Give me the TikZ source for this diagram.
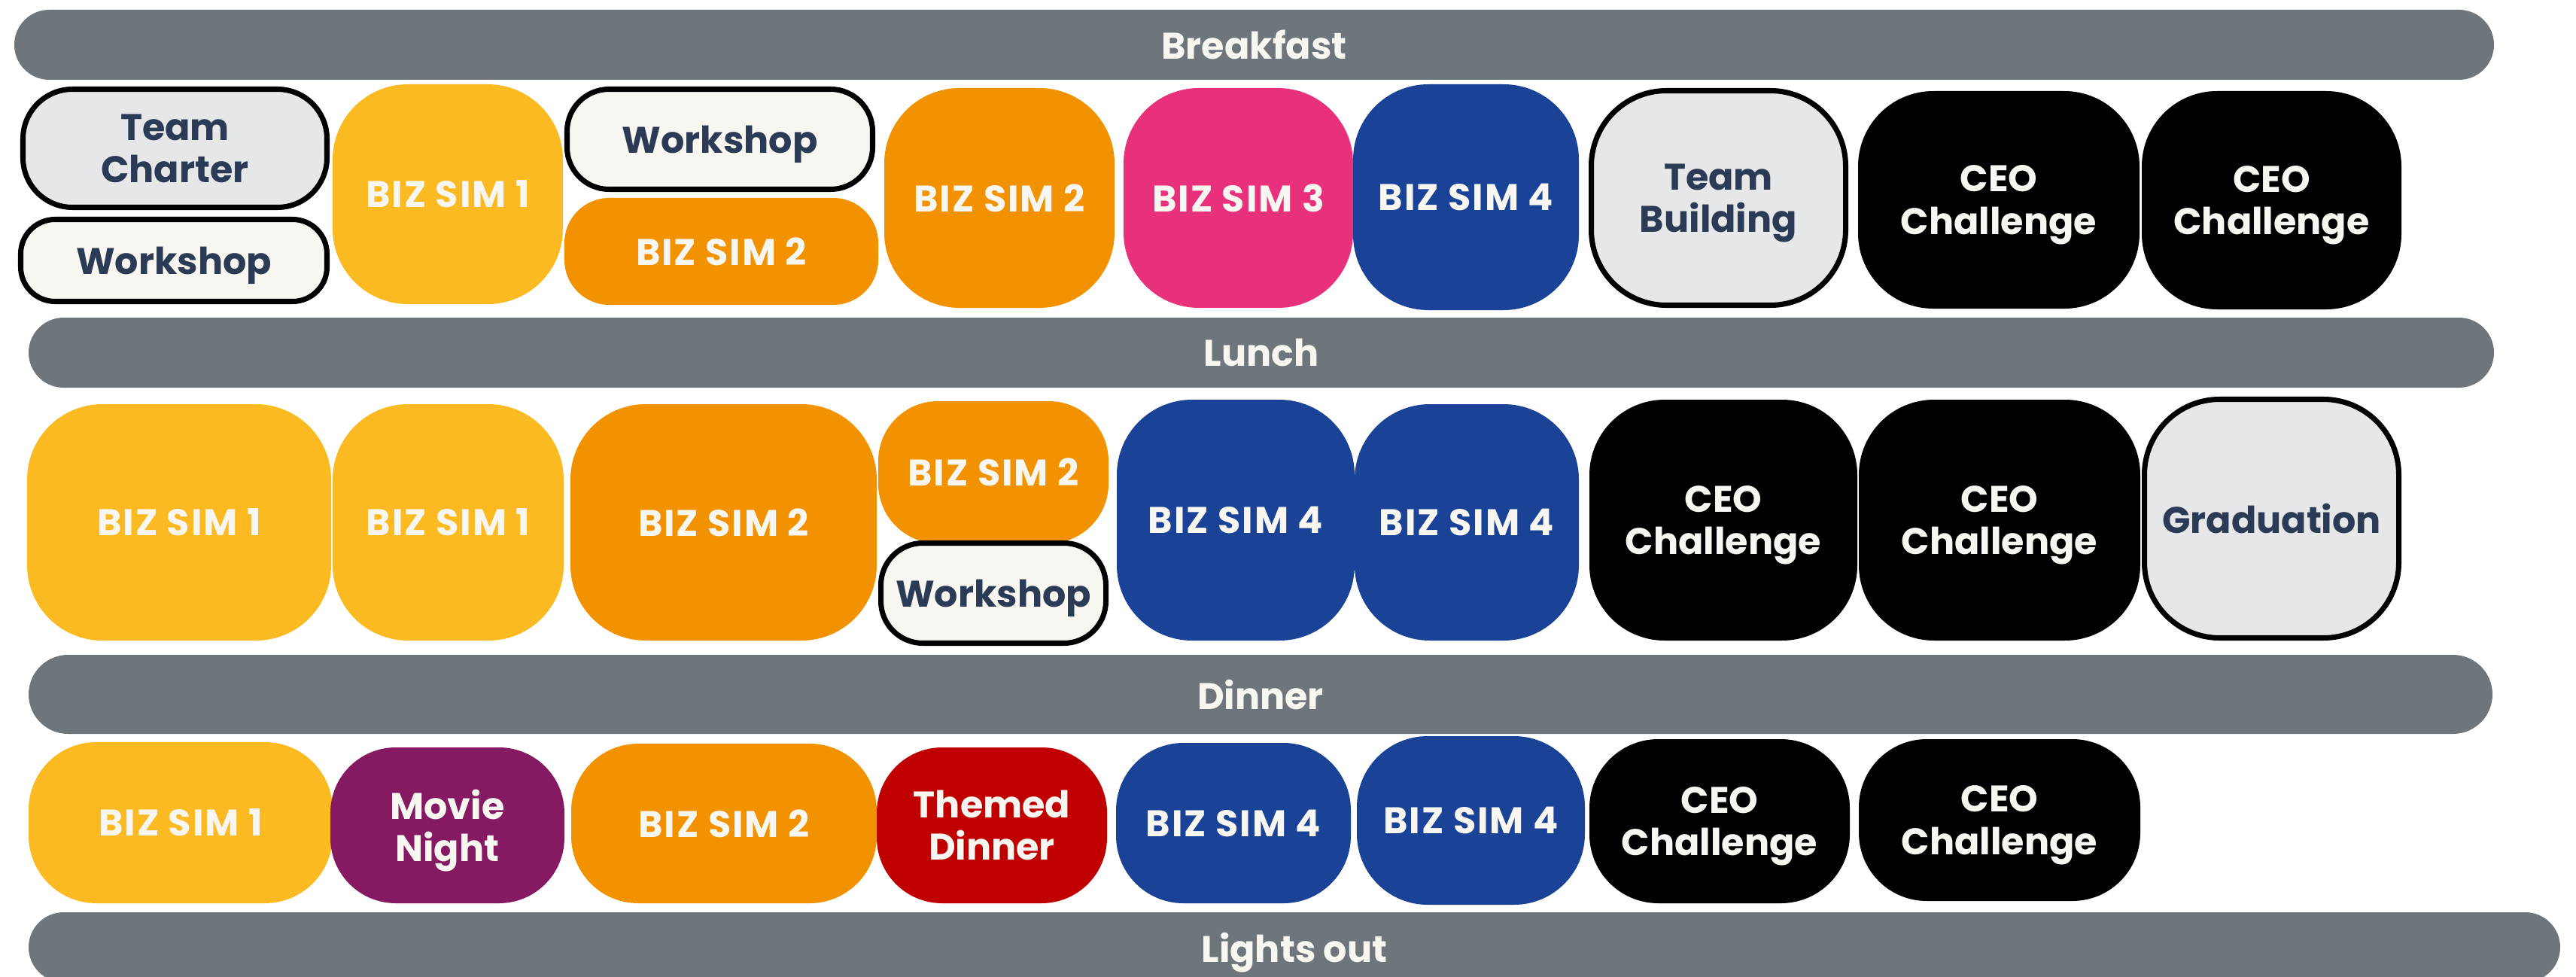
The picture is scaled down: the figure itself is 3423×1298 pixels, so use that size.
\documentclass[tikz,border=0pt]{standalone}
\usepackage{fontspec}
\setmainfont{Poppins}

\definecolor{barGray}{HTML}{6E767C}
\definecolor{offWhite}{HTML}{F7F6F1}
\definecolor{paleGray}{HTML}{E6E7E9}
\definecolor{inkNavy}{HTML}{2B3A55}
\definecolor{simYellow}{HTML}{FBBA22}
\definecolor{simOrange}{HTML}{F29200}
\definecolor{simPink}{HTML}{E8317A}
\definecolor{simBlue}{HTML}{1A4398}
\definecolor{moviePurple}{HTML}{861A62}
\definecolor{dinnerRed}{HTML}{C00000}

\tikzset{
  sz/.code 2 args={\pgfmathsetmacro\slotr{min(0.42*min(#1,#2),100)}%
    \pgfkeysalso{minimum width=#1*0.1mm, minimum height=#2*0.1mm,
                 rounded corners=\slotr*0.1mm}},
  barsz/.code 2 args={\pgfmathsetmacro\slotr{#2/2}%
    \pgfkeysalso{minimum width=#1*0.1mm, minimum height=#2*0.1mm,
                 rounded corners=\slotr*0.1mm}},
  slotbase/.style = {inner sep=0pt, align=center, text depth=0pt,
                     font=\fontsize{14}{16}\selectfont\bfseries, text=offWhite},
  simbase/.style  = {slotbase,
                     font=\fontsize{14}{16}\selectfont\bfseries\addfontfeature{LetterSpace=4}},
  mealbar/.style  = {slotbase, fill=barGray},
  yellowslot/.style = {simbase, fill=simYellow},
  orangeslot/.style = {simbase, fill=simOrange},
  pinkslot/.style   = {simbase, fill=simPink},
  blueslot/.style   = {simbase, fill=simBlue},
  ceoslot/.style    = {slotbase, fill=black},
  movieslot/.style  = {slotbase, fill=moviePurple},
  themeslot/.style  = {slotbase, fill=dinnerRed},
  paleslot/.style   = {slotbase, fill=paleGray, draw=black,
                       line width=2pt, text=inkNavy},
  workslot/.style   = {paleslot, fill=offWhite}
}

\begin{document}
\begin{tikzpicture}[x=0.1mm,y=-0.1mm]
\useasboundingbox (0,0) rectangle (3423,1298);
\clip (0,0) rectangle (3423,1298);

% meal bars
\node[mealbar, barsz={3295}{93}]  (breakfast) at (1666.5,59.5)  {Breakfast};
\node[mealbar, barsz={3276}{93}]  (lunch)     at (1676,468.5)   {Lunch};
\node[mealbar, barsz={3274}{105}] (dinner)    at (1675,922.5)   {Dinner};
\node[mealbar, barsz={3364}{93}]  (lightsout) at (1720,1258.5)  {Lights out};

% morning
\node[paleslot, sz={404}{157}]   (charter)  at (232.5,197)  {Team\\Charter};
\node[workslot, sz={407}{109}]   (wshopA)   at (231,346)    {Workshop};
\node[yellowslot, sz={306}{292}] (simA1)    at (595,258)    {BIZ SIM 1};
\node[workslot, sz={406}{133}]   (wshopB)   at (956.5,185)  {Workshop};
\node[orangeslot, sz={417}{142}] (simA2a)   at (958.5,334)  {BIZ SIM 2};
\node[orangeslot, sz={306}{292}] (simA2b)   at (1328,263)   {BIZ SIM 2};
\node[pinkslot, sz={305}{292}]   (simA3)    at (1645.5,263) {BIZ SIM 3};
\node[blueslot, sz={300}{300}]   (simA4)    at (1948,262)   {BIZ SIM 4};
\node[paleslot, sz={338}{285}]   (teambld)  at (2283.5,263) {Team\\Building};
\node[ceoslot, sz={374}{289}]    (ceoA1)    at (2656,265.5) {CEO\\Challenge};
\node[ceoslot, sz={345}{290}]    (ceoA2)    at (3018.5,266) {CEO\\Challenge};

% afternoon
\node[yellowslot, sz={404}{314}] (simB1a)   at (238,694)    {BIZ SIM 1};
\node[yellowslot, sz={307}{314}] (simB1b)   at (595.5,694)  {BIZ SIM 1};
\node[orangeslot, sz={407}{314}] (simB2a)   at (961.5,694)  {BIZ SIM 2};
\node[orangeslot, sz={306}{189}] (simB2b)   at (1320,627.5) {BIZ SIM 2};
\node[workslot, sz={299}{133}]   (wshopC)   at (1320,788)   {Workshop};
\node[blueslot, sz={316}{320}]   (simB4a)   at (1642,691)   {BIZ SIM 4};
\node[blueslot, sz={298}{314}]   (simB4b)   at (1949,694)   {BIZ SIM 4};
\node[ceoslot, sz={356}{320}]    (ceoB1)    at (2290,691)   {CEO\\Challenge};
\node[ceoslot, sz={374}{320}]    (ceoB2)    at (2657,691)   {CEO\\Challenge};
\node[paleslot, sz={338}{317}]   (gradu)    at (3018.5,689) {Graduation};

% evening
\node[yellowslot, sz={404}{214}] (simC1)    at (240,1093)    {BIZ SIM 1};
\node[movieslot, sz={311}{207}]  (movie)    at (594.5,1096.5){Movie\\Night};
\node[orangeslot, sz={406}{212}] (simC2)    at (962,1094)    {BIZ SIM 2};
\node[themeslot, sz={306}{207}]  (themed)   at (1318,1096.5) {Themed\\Dinner};
\node[blueslot, sz={312}{213}]   (simC4a)   at (1639,1093.5) {BIZ SIM 4};
\node[blueslot, sz={303}{224}]   (simC4b)   at (1954.5,1090) {BIZ SIM 4};
\node[ceoslot, sz={346}{218}]    (ceoC1)    at (2285,1091)   {CEO\\Challenge};
\node[ceoslot, sz={374}{215}]    (ceoC2)    at (2657,1089.5) {CEO\\Challenge};
\end{tikzpicture}
\end{document}
